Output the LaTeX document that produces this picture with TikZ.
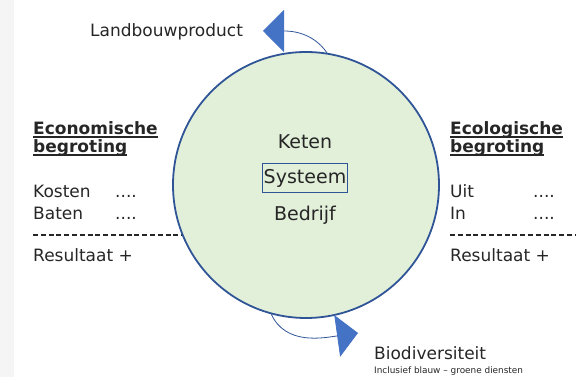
\documentclass[tikz,border=0pt]{standalone}
\usepackage{fontspec}
\setmainfont{DejaVu Sans}
\usetikzlibrary{arrows.meta}
\definecolor{kringgroen}{HTML}{E2EFD9}
\definecolor{kringblauw}{HTML}{2F5597}
\definecolor{pijlblauw}{HTML}{4472C4}
\definecolor{tekstgrijs}{HTML}{262626}
\newcommand{\onderstreep}[1]{\setbox0\hbox{#1}\rlap{\rule[-2.6pt]{\wd0}{1.1pt}}\box0}

\begin{document}
\begin{tikzpicture}[x=1pt,y=1pt]
        \tikzset{tekst/.style = {anchor=base west, inner sep=0pt, text=tekstgrijs, font=\fontsize{17}{20}\selectfont}}
        \tikzset{kop/.style = {tekst, font=\fontsize{17}{20}\selectfont\bfseries}}
        \tikzset{binnen/.style = {anchor=base, inner sep=0pt, text=tekstgrijs, font=\fontsize{19}{22}\selectfont}}
        \tikzset{streep/.style = {draw=tekstgrijs, line width=1.2pt, dash pattern=on 5pt off 2.8pt}}
        \tikzset{boog/.style = {draw=kringblauw, line width=0.8pt, -{Triangle[length=21pt,width=42pt,color=pijlblauw]}}}
        \useasboundingbox (0,0) rectangle (576,377);
        \fill[black!4] (0,0) rectangle (14,377);

        % stippellijnen onder de kring
        \coordinate (streepL1) at (33,142);
        \coordinate (streepL2) at (185,142);
        \coordinate (streepR1) at (450,142);
        \coordinate (streepR2) at (576,142);
        \draw[streep] (streepL1) -- (streepL2);
        \draw[streep] (streepR1) -- (streepR2);

        \node[shape=circle, draw=kringblauw, fill=kringgroen, line width=1.8pt, minimum size=266pt, inner sep=0pt] (kring) at (306,192) {};

        \node[binnen] (keten) at (305,228) {Keten};
        \node[binnen, anchor=center, draw=kringblauw, line width=1pt, inner xsep=1pt, minimum height=29pt] (systeem) at (305,198.5) {Systeem};
        \node[binnen] (bedrijf) at (305,156) {Bedrijf};

        \node[kop] (eco1) at (33,242) {\onderstreep{Economische}};
        \node[kop] (eco2) at (33,224) {\onderstreep{begroting}};
        \node[tekst] (kosten) at (33,179) {Kosten};
        \node[tekst] (kostenpunt) at (115,179) {....};
        \node[tekst] (baten) at (33,157) {Baten};
        \node[tekst] (batenpunt) at (115,157) {....};
        \node[tekst] (resultaatL) at (33,115) {Resultaat +};

        \node[kop] (eco3) at (450,242) {\onderstreep{Ecologische}};
        \node[kop] (eco4) at (450,224) {\onderstreep{begroting}};
        \node[tekst] (uit) at (450,179) {Uit};
        \node[tekst] (uitpunt) at (533,179) {....};
        \node[tekst] (in) at (450,157) {In};
        \node[tekst] (inpunt) at (533,157) {....};
        \node[tekst] (resultaatR) at (450,115) {Resultaat +};

        \node[tekst] (product) at (90,340) {Landbouwproduct};
        \node[tekst] (bio) at (374,17) {Biodiversiteit};
        \node[tekst, font=\fontsize{8.9}{10}\selectfont] (diensten) at (374,3) {Inclusief blauw – groene diensten};

        \coordinate (toppunt) at (263,346);
        \coordinate (onderpunt) at (358,44);
        \draw[boog] (kring.81) to[out=125, in=0] (toppunt);
        \draw[boog] (kring.255) to[out=-65, in=188] (onderpunt);
\end{tikzpicture}
\end{document}
